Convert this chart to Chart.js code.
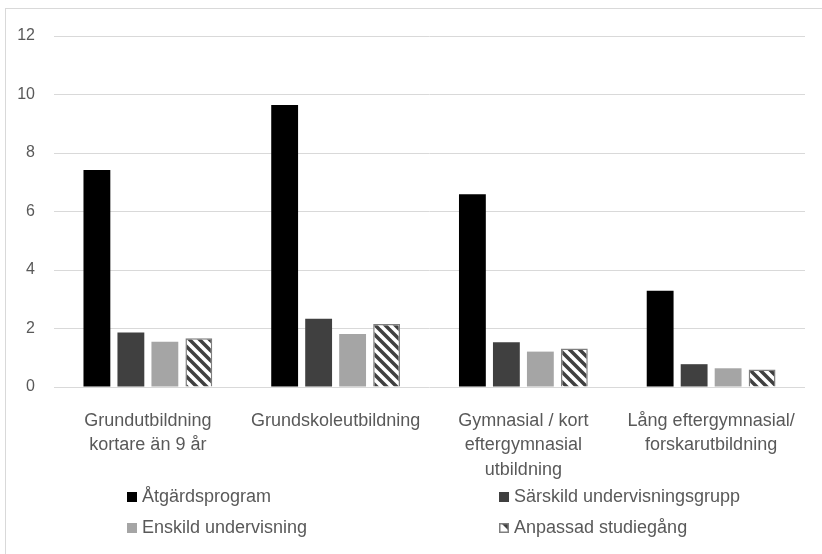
<!DOCTYPE html>
<html>
<head>
<meta charset="utf-8">
<script src="https://cdn.jsdelivr.net/npm/chart.js@4"></script>
<style>
  html, body { margin: 0; padding: 0; background: #fff; overflow: hidden; }
  #frame { position: absolute; left: 5px; top: 8px; width: 900px; height: 700px; border: 1px solid #d9d9d9; }
  #chart { position: absolute; left: 0; top: 0; }
</style>
</head>
<body>
<div id="frame"></div>
<canvas id="chart" width="822" height="554"></canvas>
<script>
const categories = [
  ['Grundutbildning', 'kortare än 9 år'],
  'Grundskoleutbildning',
  ['Gymnasial / kort', 'eftergymnasial', 'utbildning'],
  ['Lång eftergymnasial/', 'forskarutbildning']
];
const seriesNames = ['Åtgärdsprogram', 'Särskild undervisningsgrupp', 'Enskild undervisning', 'Anpassad studiegång'];
const atgardsprogram = [7.42, 9.64, 6.59, 3.29];
const sarskildGrupp = [1.86, 2.33, 1.53, 0.78];
const enskildUndervisning = [1.55, 1.81, 1.21, 0.64];
const anpassadStudiegang = [1.67, 2.15, 1.32, 0.60];
const yTicks = [0, 2, 4, 6, 8, 10, 12];

const FONT = '"Liberation Sans", Arial, sans-serif';
const TEXT = '#595959';

const canvas = document.getElementById('chart');
const ctx = canvas.getContext('2d');

// diagonal stripes for the last series
function stripes() {
  const size = 10;
  const c = document.createElement('canvas');
  c.width = size;
  c.height = size;
  const g = c.getContext('2d');
  g.fillStyle = '#ffffff';
  g.fillRect(0, 0, size, size);
  g.strokeStyle = '#404040';
  g.lineWidth = 3.5;
  for (const k of [-size, 0, size]) {
    g.beginPath();
    g.moveTo(-1, k - 1);
    g.lineTo(size + 1, k + size + 1);
    g.stroke();
  }
  return ctx.createPattern(c, 'repeat');
}

// two-column legend under the axis
const gridLegend = {
  id: 'gridLegend',
  afterDraw(chart, args, opts) {
    const c = chart.ctx;
    const s = opts.boxSize;
    c.save();
    c.font = '18px ' + FONT;
    c.textBaseline = 'middle';
    chart.data.datasets.forEach((ds, i) => {
      const x = opts.columns[i % 2];
      const y = opts.rows[Math.floor(i / 2)];
      if (ds.backgroundColor instanceof CanvasPattern) {
        c.fillStyle = '#ffffff';
        c.fillRect(x, y - s / 2, s, s);
        c.fillStyle = '#404040';
        c.beginPath();
        c.moveTo(x + 2, y - s / 2);
        c.lineTo(x + s, y - s / 2);
        c.lineTo(x + s, y + s / 2 - 2);
        c.closePath();
        c.fill();
        c.strokeStyle = '#7f7f7f';
        c.lineWidth = 1.5;
        c.strokeRect(x + 0.75, y - s / 2 + 0.75, s - 1.5, s - 1.5);
      } else {
        c.fillStyle = ds.backgroundColor;
        c.fillRect(x, y - s / 2, s, s);
      }
      c.fillStyle = TEXT;
      c.fillText(ds.label, x + s + 5, y);
    });
    c.restore();
  }
};

new Chart(ctx, {
  type: 'bar',
  data: {
    labels: categories,
    datasets: [
      { label: seriesNames[0], data: atgardsprogram, backgroundColor: '#000000' },
      { label: seriesNames[1], data: sarskildGrupp, backgroundColor: '#404040' },
      { label: seriesNames[2], data: enskildUndervisning, backgroundColor: '#a5a5a5' },
      { label: seriesNames[3], data: anpassadStudiegang, backgroundColor: stripes(),
        borderColor: '#7f7f7f', borderWidth: 1.5 }
    ]
  },
  options: {
    responsive: false,
    animation: false,
    categoryPercentage: 0.724,
    barPercentage: 0.79,
    layout: { padding: { left: 0, right: 17, top: 36, bottom: 0 } },
    scales: {
      x: {
        grid: { display: false },
        border: { display: false },
        ticks: { color: TEXT, font: { family: FONT, size: 18, lineHeight: 1.35 }, padding: 14, maxRotation: 0, autoSkip: false },
        afterFit: axis => { axis.height = 167; }
      },
      y: {
        min: 0,
        max: 12,
        afterBuildTicks: axis => { axis.ticks = yTicks.map(v => ({ value: v })); },
        grid: { color: '#d9d9d9', lineWidth: 1, drawTicks: false },
        border: { display: false },
        ticks: { color: TEXT, font: { family: FONT, size: 16 }, padding: 19 },
        afterFit: axis => { axis.width = 54; }
      }
    },
    plugins: {
      legend: { display: false },
      tooltip: { enabled: false },
      gridLegend: { columns: [127, 499], rows: [497, 528], boxSize: 10 }
    }
  },
  plugins: [gridLegend]
});
</script>
</body>
</html>
